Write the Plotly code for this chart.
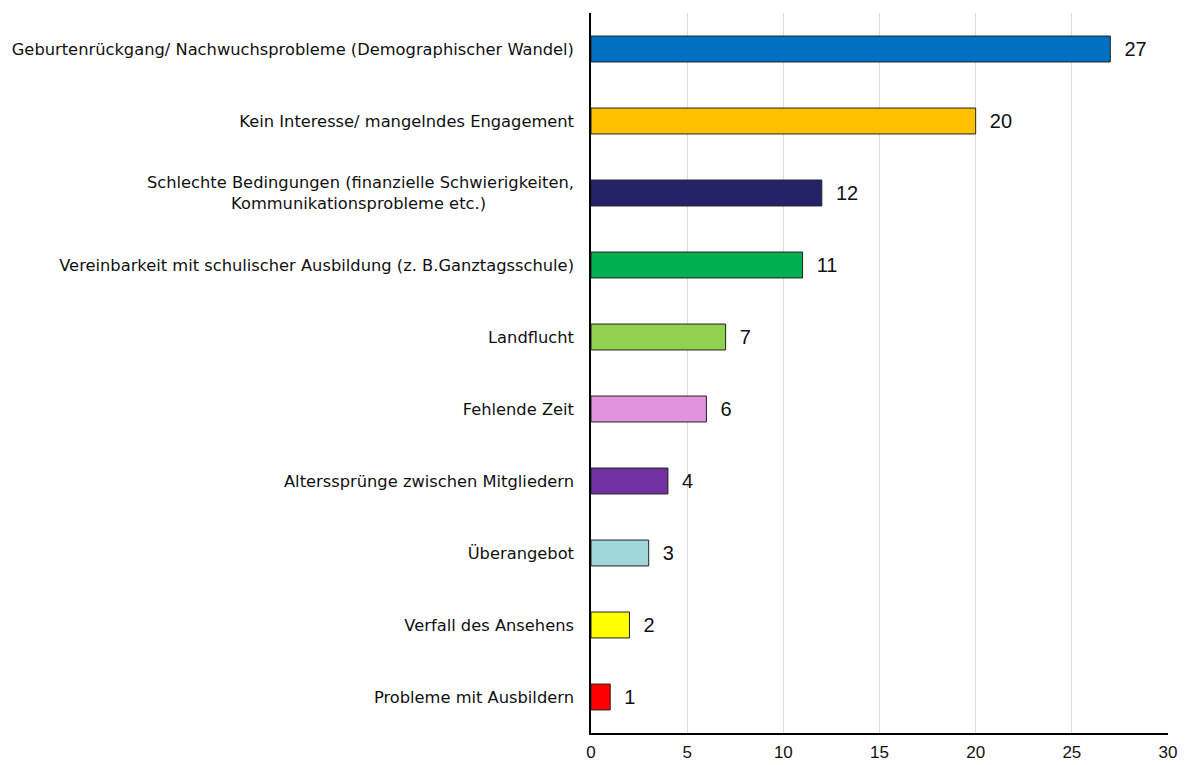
import plotly.graph_objects as go

categories = [
    "Geburtenrückgang/ Nachwuchsprobleme (Demographischer Wandel)",
    "Kein Interesse/ mangelndes Engagement",
    "Schlechte Bedingungen (finanzielle Schwierigkeiten,<br>Kommunikationsprobleme etc.)" + "\u00a0" * 17,
    "Vereinbarkeit mit schulischer Ausbildung (z. B.Ganztagsschule)",
    "Landflucht",
    "Fehlende Zeit",
    "Alterssprünge zwischen Mitgliedern",
    "Überangebot",
    "Verfall des Ansehens",
    "Probleme mit Ausbildern",
]
values = [27, 20, 12, 11, 7, 6, 4, 3, 2, 1]
colors = ["#0070C0", "#FFC000", "#24236A", "#00B050", "#92D050",
          "#E293E0", "#7030A0", "#A0D5DA", "#FFFF00", "#FF0000"]
x_ticks = [0, 5, 10, 15, 20, 25, 30]

fig = go.Figure(go.Bar(
    x=values, y=categories, orientation="h",
    marker=dict(color=colors, line=dict(color="#222222", width=1)),
    text=["\u00a0\u00a0" + str(v) for v in values],
    textposition="outside",
    textfont=dict(family="Liberation Sans, Arial", size=20, color="#111111"),
    cliponaxis=False,
    width=0.36,
))

fig.update_layout(
    width=1171, height=757,
    margin=dict(l=583, r=11, t=5, b=32),
    plot_bgcolor="white", paper_bgcolor="white",
    showlegend=False,
    font=dict(family="DejaVu Sans", size=16.3, color="#111111"),
)
fig.update_xaxes(
    range=[0, 30], tickvals=x_ticks, showgrid=True, gridcolor="#DDDDDD", gridwidth=1,
    showline=True, linecolor="black", linewidth=1.5, zeroline=False,
    tickfont=dict(family="Liberation Sans, Arial", size=17, color="#111111"),
    ticks="", automargin=False, ticklabelstandoff=3, ticklabeloverflow="allow",
)
fig.update_yaxes(
    autorange="reversed", showline=True, linecolor="black", linewidth=1.5,
    ticks="", showgrid=False, automargin=False, ticklabelstandoff=12,
)

fig.write_html("out.html")
